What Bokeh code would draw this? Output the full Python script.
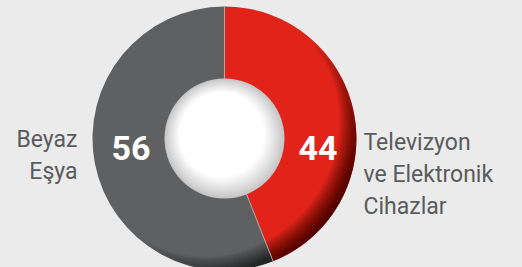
import numpy as np
from bokeh.plotting import figure
from bokeh.models import ColumnDataSource
from bokeh.embed import file_html
from bokeh.resources import INLINE
from bokeh.core.properties import value

# ---- data ----
categories = ["Televizyon ve Elektronik Cihazlar", "Beyaz Eşya"]
label_lines = [["Televizyon", "ve Elektronik", "Cihazlar"], ["Beyaz", "Eşya"]]
shares = [44, 56]
colors = ["#e1231a", "#5f6062"]

# ---- layout / style ----
W, H = 522, 267
CX, CY = 224, 129
R_OUT, R_IN = 132, 60
BG = "#ebebeb"
TXT = "#5a5b5d"

p = figure(width=W, height=H, x_range=(0, W), y_range=(0, H),
           output_backend="svg", toolbar_location=None, min_border=0)
p.axis.visible = False
p.grid.visible = False
p.outline_line_color = None
p.background_fill_color = BG
p.border_fill_color = BG

vals = np.array(shares, dtype=float)
fr = vals / vals.sum()
cum = np.cumsum(fr)
starts = np.pi / 2 - 2 * np.pi * np.concatenate([[0.0], cum[:-1]])
ends = np.pi / 2 - 2 * np.pi * cum

src = ColumnDataSource(dict(start=starts, end=ends, color=colors, cat=categories))
p.wedge(x=CX, y=CY, radius=R_OUT, start_angle="start", end_angle="end",
        direction="clock", fill_color="color", line_color=None, source=src)

# ---- rim shading (lighting effect, darker toward lower right) ----
L = 36
phi0 = np.deg2rad(-40)
a_lvl = 1 - 0.45 ** (1.0 / L)
ri, sa, ea = [], [], []
for j in range(L):
    s = (j + 0.5) / L
    half = np.arccos(s ** (1 / 1.2))
    ri.append(R_OUT - (3 + 22 * s))
    sa.append(phi0 - half)
    ea.append(phi0 + half)
shade = ColumnDataSource(dict(ri=ri, sa=sa, ea=ea))
p.annular_wedge(x=CX, y=CY, inner_radius="ri", outer_radius=R_OUT,
                start_angle="sa", end_angle="ea", fill_color="black",
                fill_alpha=a_lvl, line_color=None, source=shade)

# separators
p.ray(x=CX, y=CY, length=R_OUT, angle=starts, line_color="#a9aaac", line_width=1)

# ---- sphere in the centre ----
n = 50
t = np.linspace(0, 1, n)
rad = R_IN * (1 - 0.95 * t)
ox = CX - 9 * t
oy = CY + 13 * t
lev = np.clip(0.66 + 0.34 * (t / 0.3), 0, 1) ** 0.6
cols = ["#%02x%02x%02x" % (int(255 * v), int(255 * v), int(255 * v)) for v in lev]
p.circle(x=ox, y=oy, radius=rad, fill_color=cols, line_color=None)

# ---- numbers ----
R_MID = 0.5 * (R_OUT + R_IN) - 2.5
mids = 0.5 * (starts + ends)
num_x = [CX + R_MID * np.sign(np.cos(m)) for m in mids]
num_y = [CY - 9 for _ in mids]
p.text(x=num_x, y=num_y, text=[str(s) for s in shares],
       text_font=value("Roboto"), text_font_style="bold", text_font_size="34px",
       text_color="white", text_align="center", text_baseline="alphabetic")

# ---- category labels ----
LINE = 32
for lines, m in zip(label_lines, mids):
    right = np.cos(m) > 0
    x0 = CX + 139 if right else CX - 147
    y0 = CY - 4 if right else CY - 1
    p.text(x=[x0] * len(lines), y=[y0 - LINE * i for i in range(len(lines))],
           text=lines, text_font=value("Roboto"), text_font_size="23px",
           text_color=TXT, text_align="left" if right else "right",
           text_baseline="alphabetic")

html = file_html(p, INLINE)
html = html.replace("<head>", "<head><style>html,body{background:%s;}</style>" % BG, 1)
open("out.html", "w").write(html)
